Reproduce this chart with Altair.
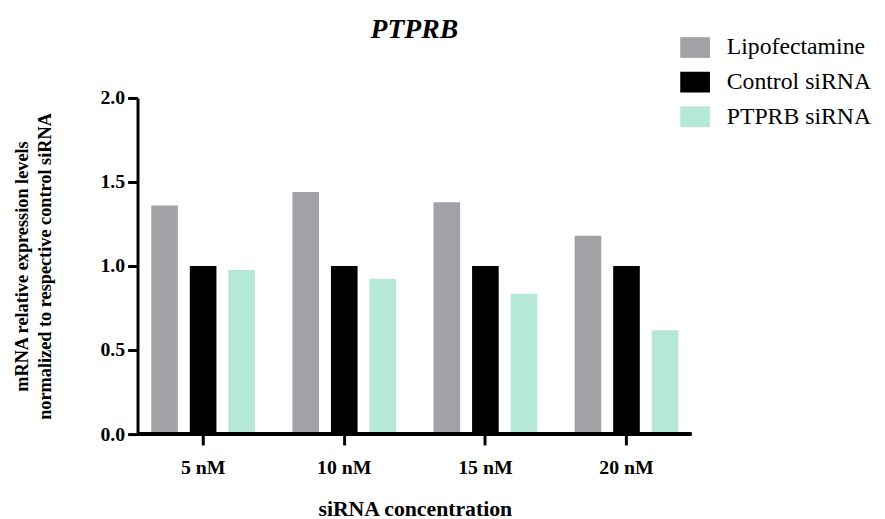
import altair as alt
import pandas as pd

concentrations = ["5 nM", "10 nM", "15 nM", "20 nM"]
series = ["Lipofectamine", "Control siRNA", "PTPRB siRNA"]
lipofectamine = [1.36, 1.44, 1.38, 1.18]
control = [1.00, 1.00, 1.00, 1.00]
ptprb = [0.976, 0.924, 0.835, 0.618]
colors = ["#A2A1A6", "#000000", "#B5E9D6"]

rows = []
for i, c in enumerate(concentrations):
    for s, vals in zip(series, [lipofectamine, control, ptprb]):
        rows.append({"conc": c, "series": s, "value": vals[i]})
df = pd.DataFrame(rows)

FONT = "Liberation Serif"
W, H = 560, 340

yaxis = alt.Axis(values=[0, 0.5, 1.0, 1.5, 2.0], format=".1f",
                 title=["mRNA relative expression levels",
                        "normalized to respective control siRNA"],
                 domainWidth=3, domainColor="black", tickWidth=3,
                 tickColor="black", tickSize=10, labelPadding=3,
                 labelFont=FONT, labelFontSize=20, labelFontWeight="bold",
                 labelColor="black", titleFont=FONT, titleFontSize=18.5,
                 titleFontWeight="bold", titleColor="black",
                 titlePadding=46, titleLineHeight=23, grid=False)

bars = alt.Chart(df).mark_bar().encode(
    x=alt.X("conc:N", sort=concentrations,
            scale=alt.Scale(paddingInner=0, paddingOuter=0, range=[-5, W + 6]),
            axis=alt.Axis(title="siRNA concentration", labelAngle=0, domain=False,
                          tickWidth=3, tickColor="black", tickSize=11,
                          labelPadding=13, labelFont=FONT, labelFontSize=20,
                          labelFontWeight="bold", labelColor="black",
                          titleFont=FONT, titleFontSize=22, titleFontWeight="bold",
                          titleColor="black", titlePadding=21)),
    xOffset=alt.XOffset("series:N", sort=series,
                        scale=alt.Scale(paddingInner=0.31, paddingOuter=0.485)),
    y=alt.Y("value:Q", scale=alt.Scale(domain=[0, 2]), axis=yaxis),
    color=alt.Color("series:N", sort=series,
                    scale=alt.Scale(domain=series, range=colors),
                    legend=alt.Legend(title=None, orient="none", legendX=552,
                                      legendY=-63,
                                      symbolType="M-1.43,-1L1.43,-1L1.43,1L-1.43,1Z",
                                      symbolSize=441, symbolStrokeWidth=0,
                                      labelFont=FONT, labelFontSize=24,
                                      labelColor="black", rowPadding=11,
                                      labelOffset=20)),
)

baseline = alt.Chart(df).mark_rule(color="black", strokeWidth=3).encode(
    y=alt.datum(0)
)

chart = alt.layer(bars, baseline).properties(
    width=W, height=H,
    title=alt.TitleParams("PTPRB", font=FONT, fontSize=28, fontStyle="italic",
                          fontWeight="bold", color="black", offset=-8,
                          anchor="middle", frame="group"),
).configure(background="white").configure_view(strokeWidth=0, stroke=None)

chart.save("out.html", embed_options={"renderer": "svg", "actions": False})
